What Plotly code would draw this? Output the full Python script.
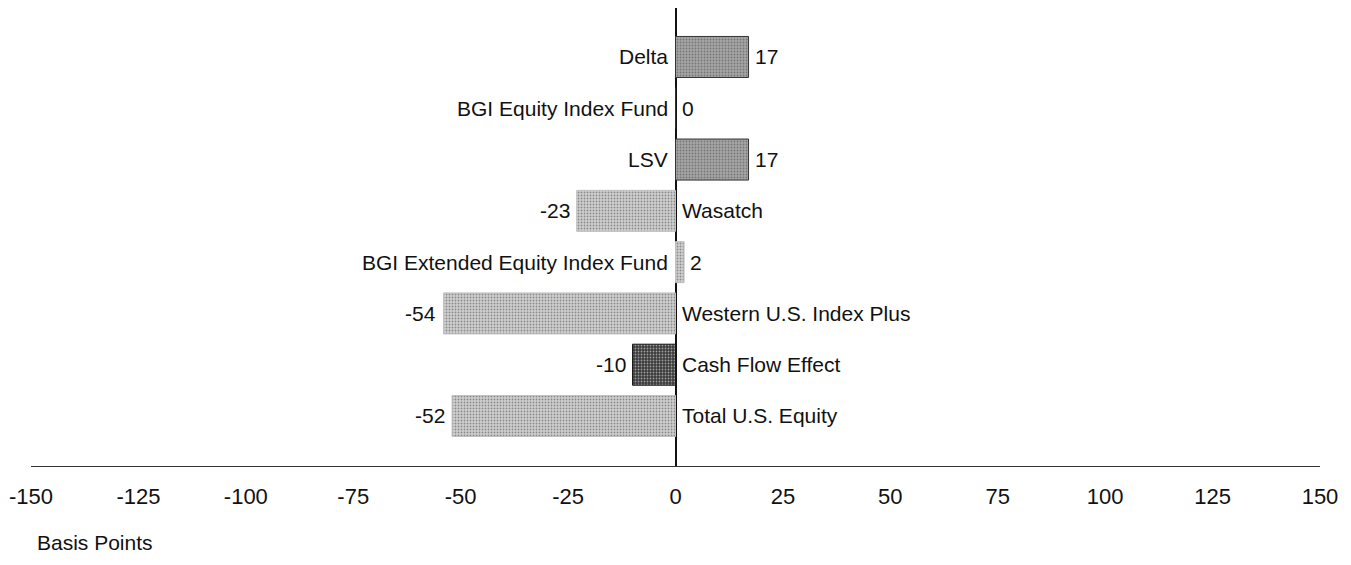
import plotly.graph_objects as go

categories = ["Delta", "BGI Equity Index Fund", "LSV", "Wasatch",
              "BGI Extended Equity Index Fund", "Western U.S. Index Plus",
              "Cash Flow Effect", "Total U.S. Equity"]
values = [17, 0, 17, -23, 2, -54, -10, -52]
bar_colors = ["#a6a6a6", "#a6a6a6", "#a6a6a6", "#d0d0d0",
              "#d0d0d0", "#d0d0d0", "#3a3a3a", "#d0d0d0"]
dot_colors = ["#808080", "#808080", "#808080", "#b0b0b0",
              "#b0b0b0", "#b0b0b0", "#6a6a6a", "#b0b0b0"]
line_colors = ["#333333", "#333333", "#333333", "#c0c0c0",
               "#c0c0c0", "#c0c0c0", "#1a1a1a", "#c0c0c0"]
x_ticks = [-150, -125, -100, -75, -50, -25, 0, 25, 50, 75, 100, 125, 150]
x_title = "Basis Points"

FONT = "Liberation Sans, Arial, sans-serif"
FS = 21

fig = go.Figure()
fig.add_trace(go.Bar(
    x=values, y=categories, orientation="h",
    marker=dict(color=bar_colors, line=dict(color=line_colors, width=1),
                pattern=dict(shape=".", fgcolor=dot_colors, size=3, solidity=0.3,
                             fillmode="overlay")),
    width=0.8, hoverinfo="x+y", showlegend=False,
))

annotations = []
for c, v in zip(categories, values):
    if v >= 0:
        annotations.append(dict(x=0, y=c, text=c, xanchor="right", xshift=-6,
                                showarrow=False, font=dict(family=FONT, size=FS, color="#111")))
        annotations.append(dict(x=v, y=c, text=str(v), xanchor="left", xshift=4,
                                showarrow=False, font=dict(family=FONT, size=FS, color="#111")))
    else:
        annotations.append(dict(x=0, y=c, text=c, xanchor="left", xshift=4,
                                showarrow=False, font=dict(family=FONT, size=FS, color="#111")))
        annotations.append(dict(x=v, y=c, text=str(v), xanchor="right", xshift=-5,
                                showarrow=False, font=dict(family=FONT, size=FS, color="#111")))

annotations.append(dict(x=0, y=-0.168, xref="paper", yref="paper", text=x_title,
                        xanchor="left", yanchor="middle", xshift=4, showarrow=False,
                        font=dict(family=FONT, size=21, color="#111")))

fig.update_layout(
    width=1335, height=549,
    margin=dict(l=23, r=23, t=0, b=91),
    plot_bgcolor="white", paper_bgcolor="white",
    font=dict(family=FONT, size=FS, color="#111"),
    bargap=0.2,
    annotations=annotations,
    xaxis=dict(range=[-150, 150], tickvals=x_ticks, ticktext=[str(t) for t in x_ticks],
               showgrid=False, zeroline=True, zerolinecolor="#111", zerolinewidth=1.5,
               showline=True, linecolor="#333", linewidth=1.2,
               ticks="outside", ticklen=10, tickcolor="rgba(0,0,0,0)",
               tickfont=dict(family=FONT, size=22, color="#111")),
    yaxis=dict(categoryorder="array", categoryarray=list(reversed(categories)),
               range=[-0.975, 7.955], showticklabels=False, showgrid=False,
               zeroline=False, showline=False, ticks=""),
)

fig.write_html("out.html")
